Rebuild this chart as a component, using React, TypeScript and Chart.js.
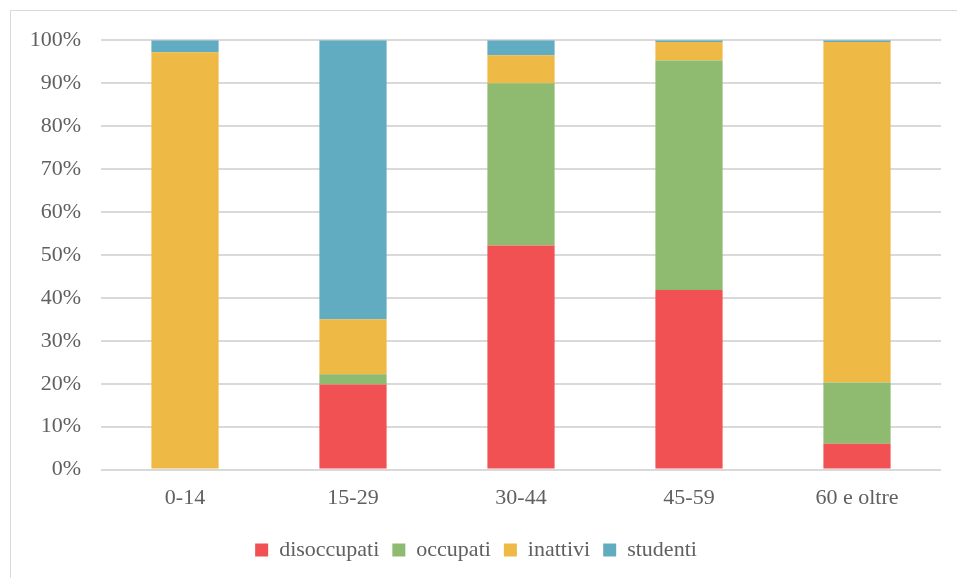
import React, { useEffect, useRef } from "react";
import { Chart, registerables } from "chart.js";

Chart.register(...registerables);

const categories = ["0-14", "15-29", "30-44", "45-59", "60 e oltre"];
const disoccupati = [0, 19.8, 52.2, 41.8, 6.0];
const occupati = [0, 2.4, 37.8, 53.5, 14.3];
const inattivi = [97.2, 12.8, 6.5, 4.3, 79.3];
const studenti = [2.8, 65.0, 3.5, 0.4, 0.4];
const yTicks = [0, 10, 20, 30, 40, 50, 60, 70, 80, 90, 100];

const FONT = "'Liberation Serif', 'DejaVu Serif', serif";
const TEXT = "#606060";
const GRID = "#d9d9d9";

export default function App() {
  const canvasRef = useRef<HTMLCanvasElement | null>(null);

  useEffect(() => {
    if (!canvasRef.current) return;
    const chart = new Chart(canvasRef.current, {
      type: "bar",
      data: {
        labels: categories,
        datasets: [
          { label: "disoccupati", data: disoccupati, backgroundColor: "#F15152" },
          { label: "occupati", data: occupati, backgroundColor: "#8FBB70" },
          { label: "inattivi", data: inattivi, backgroundColor: "#EEB945" },
          { label: "studenti", data: studenti, backgroundColor: "#62ACC1" },
        ],
      },
      options: {
        animation: false,
        responsive: false,
        maintainAspectRatio: false,
        layout: { padding: { top: 0, right: 16, left: 0, bottom: 7 } },
        datasets: { bar: { barPercentage: 0.4, categoryPercentage: 1 } },
        plugins: {
          tooltip: { enabled: false },
          legend: {
            position: "bottom",
            labels: {
              boxWidth: 13,
              boxHeight: 13,
              padding: 13,
              color: TEXT,
              font: { family: FONT, size: 22 },
            },
          },
        },
        scales: {
          x: {
            stacked: true,
            grid: { display: false, drawTicks: false },
            border: { display: false },
            ticks: { color: TEXT, font: { family: FONT, size: 22 }, padding: 15 },
          },
          y: {
            stacked: true,
            min: 0,
            max: 100,
            afterBuildTicks: (scale: any) => {
              scale.ticks = yTicks.map((v) => ({ value: v }));
            },
            afterFit: (scale: any) => {
              scale.width = 90;
            },
            grid: { color: GRID, lineWidth: 2, drawTicks: false },
            border: { display: false },
            ticks: {
              color: TEXT,
              font: { family: FONT, size: 22 },
              padding: 20,
              callback: (v: any) => v + "%",
            },
          },
        },
      },
    });
    return () => chart.destroy();
  }, []);

  return (
    <div
      style={{
        position: "fixed",
        left: 10,
        top: 10,
        width: 960,
        height: 580,
        border: "1.5px solid #d9d9d9",
        borderRight: "none",
        borderBottom: "none",
        boxSizing: "border-box",
        background: "#fff",
      }}
    >
      <canvas
        ref={canvasRef}
        width={946}
        height={571}
        style={{ display: "block", marginTop: -4 }}
      />
    </div>
  );
}
